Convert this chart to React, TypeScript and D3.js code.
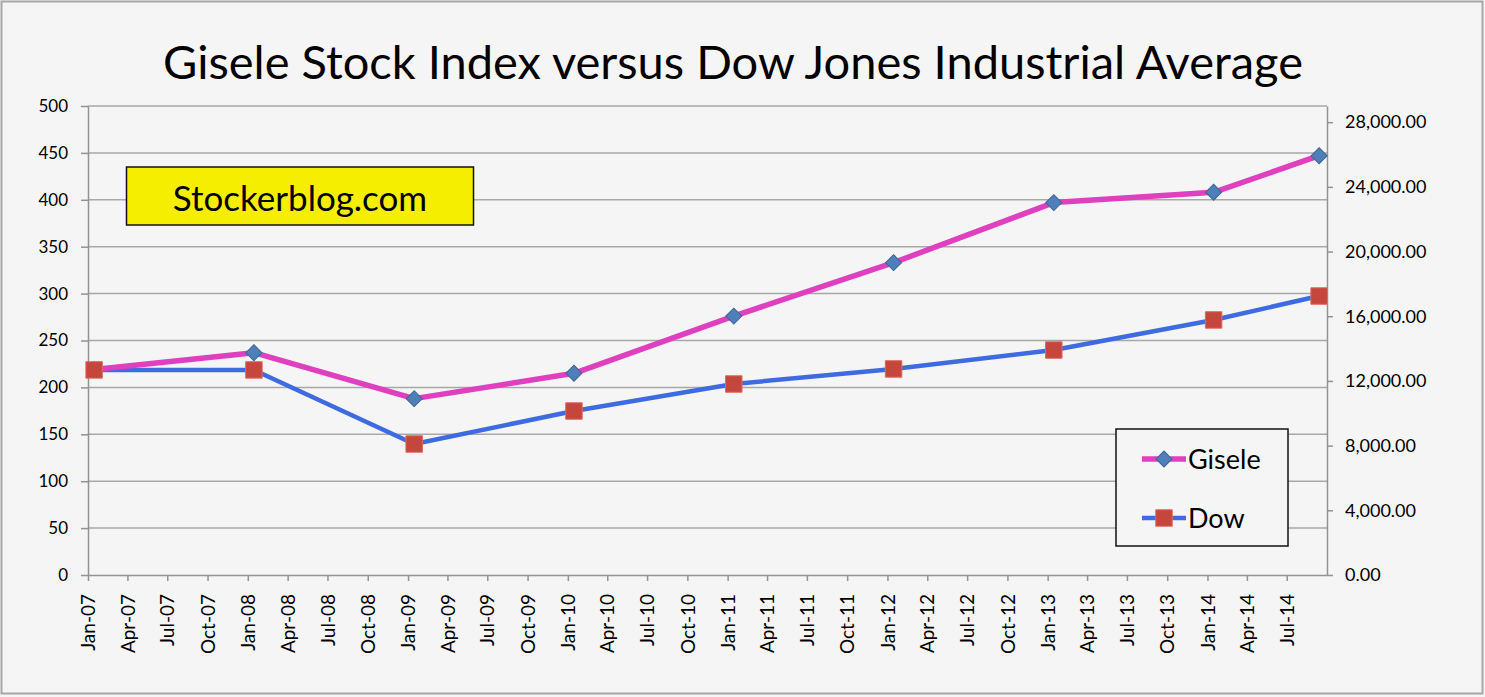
import React, { useEffect, useRef } from "react";
import * as d3 from "d3";

// values
const dates = ["2007-01-15", "2008-01-15", "2009-01-15", "2010-01-15", "2011-01-15", "2012-01-15", "2013-01-15", "2014-01-15", "2014-09-13"];
const giseleValues = [219, 237, 188, 215, 276, 333, 397, 408, 447];
const dowValues = [12680, 12680, 8100, 10140, 11810, 12740, 13910, 15770, 17250];
const leftTicks = [0, 50, 100, 150, 200, 250, 300, 350, 400, 450, 500];
const rightTicks = [0, 4000, 8000, 12000, 16000, 20000, 24000, 28000];

const W = 1485;
const H = 697;
const FONT = "Lato, 'Open Sans', sans-serif";

const App: React.FC = () => {
  const ref = useRef<SVGSVGElement>(null);

  useEffect(() => {
    const svg = d3.select(ref.current);
    svg.selectAll("*").remove();

    const plot = { left: 88, right: 1327, top: 106, bottom: 575 };
    const parse = d3.timeParse("%Y-%m-%d");
    const pts = dates.map((d, i) => ({ date: parse(d) as Date, g: giseleValues[i], dow: dowValues[i] }));

    const x = d3
      .scaleTime()
      .domain([new Date(2007, 0, 1), new Date(2014, 9, 1)])
      .range([plot.left, plot.right]);
    const yL = d3.scaleLinear().domain([0, 500]).range([plot.bottom, plot.top]);
    const yR = d3.scaleLinear().domain([0, 29000]).range([plot.bottom, plot.top]);

    // background + outer frame
    svg.append("rect").attr("x", 0).attr("y", 0).attr("width", W).attr("height", H).attr("fill", "#f6f5f5");
    svg
      .append("rect")
      .attr("x", 1.5)
      .attr("y", 1.5)
      .attr("width", 1481)
      .attr("height", 692)
      .attr("fill", "none")
      .attr("stroke", "#a8a6a6")
      .attr("stroke-width", 2);

    // title
    svg
      .append("text")
      .attr("x", 733)
      .attr("y", 79)
      .attr("text-anchor", "middle")
      .style("font-family", FONT)
      .style("font-size", "47px")
      .attr("fill", "#000")
      .text("Gisele Stock Index versus Dow Jones Industrial Average");

    // gridlines
    svg
      .append("g")
      .selectAll("line")
      .data(leftTicks.slice(1))
      .enter()
      .append("line")
      .attr("x1", plot.left)
      .attr("x2", plot.right)
      .attr("y1", (d) => yL(d))
      .attr("y2", (d) => yL(d))
      .attr("stroke", "#a9a7a7")
      .attr("stroke-width", 1.5);

    const styleAxis = (g: any, size: string) => {
      g.attr("font-size", size).attr("font-family", FONT);
      g.select(".domain").attr("stroke", "#939191").attr("stroke-width", 1.5);
      g.selectAll(".tick line").attr("stroke", "#939191").attr("stroke-width", 1.5);
      g.selectAll("text").style("font-family", FONT).style("font-size", size).attr("fill", "#000");
    };

    // left axis
    svg
      .append("g")
      .attr("transform", `translate(${plot.left},0)`)
      .call(d3.axisLeft(yL).tickValues(leftTicks).tickSize(7).tickSizeOuter(0).tickPadding(13))
      .call((g) => styleAxis(g, "17px"));

    // right axis
    svg
      .append("g")
      .attr("transform", `translate(${plot.right},0)`)
      .call(d3.axisRight(yR).tickValues(rightTicks).tickFormat(d3.format(",.2f")).tickSize(6).tickSizeOuter(0).tickPadding(12))
      .call((g) => styleAxis(g, "18px"));

    // bottom axis, a tick every quarter
    const xTicks = d3.timeMonth.every(3)!.range(new Date(2007, 0, 1), new Date(2014, 8, 1));
    const xAxis = svg
      .append("g")
      .attr("transform", `translate(0,${plot.bottom})`)
      .call(
        d3
          .axisBottom(x)
          .tickValues(xTicks)
          .tickFormat((d) => d3.timeFormat("%b-%y")(d as Date))
          .tickSize(6)
          .tickSizeOuter(0)
      )
      .call((g) => styleAxis(g, "19px"));
    xAxis
      .selectAll(".tick text")
      .attr("transform", "rotate(-90)")
      .attr("text-anchor", "end")
      .attr("x", -19)
      .attr("y", 0)
      .attr("dy", "0.35em");

    // Stockerblog box
    svg
      .append("rect")
      .attr("x", 126.5)
      .attr("y", 167)
      .attr("width", 347)
      .attr("height", 58)
      .attr("fill", "#f5ee00")
      .attr("stroke", "#111")
      .attr("stroke-width", 1.5);
    svg
      .append("text")
      .attr("x", 300)
      .attr("y", 211)
      .attr("text-anchor", "middle")
      .style("font-family", FONT)
      .style("font-size", "35px")
      .attr("fill", "#000")
      .text("Stockerblog.com");

    // lines
    const lineG = d3
      .line<any>()
      .x((d) => x(d.date))
      .y((d) => yL(d.g));
    const lineD = d3
      .line<any>()
      .x((d) => x(d.date))
      .y((d) => yR(d.dow));

    svg.append("path").datum(pts).attr("d", lineD).attr("fill", "none").attr("stroke", "#3e6be0").attr("stroke-width", 4.5).attr("stroke-linejoin", "round");
    svg.append("path").datum(pts).attr("d", lineG).attr("fill", "none").attr("stroke", "#df40c0").attr("stroke-width", 5.5).attr("stroke-linejoin", "round");

    const diamond = d3.symbol().type(d3.symbolSquare).size(128);
    const square = d3.symbol().type(d3.symbolSquare).size(272);

    // markers
    svg
      .append("g")
      .selectAll("path")
      .data(pts)
      .enter()
      .append("path")
      .attr("d", diamond)
      .attr("transform", (d) => `translate(${x(d.date)},${yL(d.g)}) rotate(45)`)
      .attr("fill", "#4f7fb8")
      .attr("stroke", "#3c6496")
      .attr("stroke-width", 1);
    svg
      .append("g")
      .selectAll("path")
      .data(pts)
      .enter()
      .append("path")
      .attr("d", square)
      .attr("transform", (d) => `translate(${x(d.date)},${yR(d.dow)})`)
      .attr("fill", "#c5463d")
      .attr("stroke", "#e06a60")
      .attr("stroke-width", 1);

    // legend
    const lg = svg.append("g");
    lg.append("rect")
      .attr("x", 1116)
      .attr("y", 429)
      .attr("width", 172)
      .attr("height", 117)
      .attr("fill", "#f6f5f5")
      .attr("stroke", "#111")
      .attr("stroke-width", 1.5);
    lg.append("line").attr("x1", 1142).attr("x2", 1186).attr("y1", 459).attr("y2", 459).attr("stroke", "#df40c0").attr("stroke-width", 5.5);
    lg.append("path").attr("d", diamond).attr("transform", "translate(1164,459) rotate(45)").attr("fill", "#4f7fb8").attr("stroke", "#3c6496");
    lg.append("text").attr("x", 1188).attr("y", 469).style("font-family", FONT).style("font-size", "27px").text("Gisele");
    lg.append("line").attr("x1", 1142).attr("x2", 1186).attr("y1", 518).attr("y2", 518).attr("stroke", "#3e6be0").attr("stroke-width", 4.5);
    lg.append("path").attr("d", square).attr("transform", "translate(1164,518)").attr("fill", "#c5463d").attr("stroke", "#e06a60");
    lg.append("text").attr("x", 1188).attr("y", 528).style("font-family", FONT).style("font-size", "27px").text("Dow");
  }, []);

  return <svg ref={ref} width={W} height={H} style={{ position: "absolute", left: 0, top: 0 }} />;
};

export default App;
